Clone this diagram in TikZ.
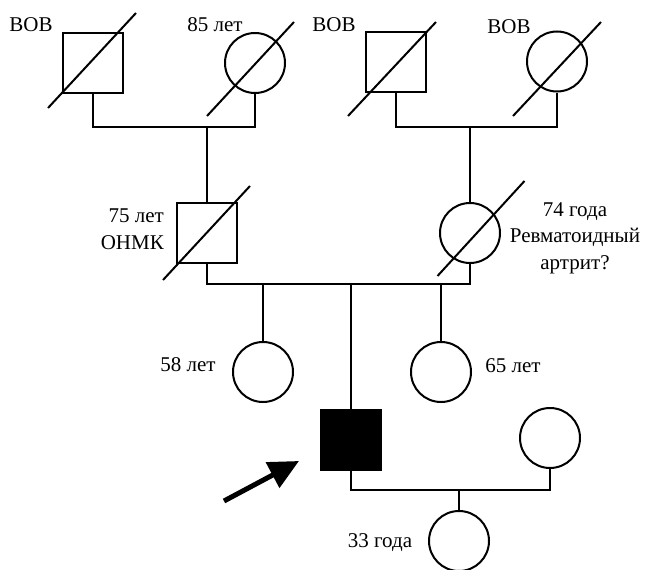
\documentclass[tikz,border=0pt]{standalone}
\usepackage{fontspec}
\setmainfont{Liberation Serif}
\usetikzlibrary{calc,arrows.meta}
\begin{document}
\begin{tikzpicture}[x=1pt,y=-1pt,
  lw/.style={line width=2pt},
  male/.style={draw,lw,rectangle,minimum size=60pt,inner sep=0pt},
  female/.style={draw,lw,circle,minimum size=60pt,inner sep=0pt},
  link/.style={lw},
  lbl/.style={font=\fontsize{21}{26.5}\selectfont,inner sep=0pt,align=center}]
\useasboundingbox (0,0) rectangle (649,570);
% generation I
\node[male] (gf1) at (93,63) {};
\node[female] (gm1) at (255,63) {};
\node[male] (gf2) at (396,61.5) {};
\node[female] (gm2) at (557,61.5) {};
% generation II
\node[male] (fa) at (207,233) {};
\node[female] (mo) at (470,233) {};
\node[female] (a58) at (263,372) {};
\node[female] (a65) at (441,372) {};
% proband
\node[male,fill=black] (pr) at (351,440) {};
\node[female] (sp) at (550,438) {};
\node[female] (ch) at (459,541) {};
% slashes
\draw[lw] ($(gf1)+(-45,45)$) -- ($(gf1)+(43,-50)$);
\draw[lw] ($(gm1)+(-48,53)$) -- ($(gm1)+(39,-41)$);
\draw[lw] ($(gf2)+(-48,54.5)$) -- ($(gf2)+(40,-39.5)$);
\draw[lw] ($(gm2)+(-44,54.5)$) -- ($(gm2)+(44,-39.5)$);
\draw[lw] ($(fa)+(-44,47)$) -- ($(fa)+(43,-47)$);
\draw[lw] ($(mo)+(-32.5,43)$) -- ($(mo)+(54.5,-52)$);
% connectors
\coordinate (m1) at (207,127);
\coordinate (m2) at (470,127);
\coordinate (m3) at (351,284);
\coordinate (s1) at (263,284);
\coordinate (s2) at (441,284);
\coordinate (m4) at (459,490);
\draw[link] (gf1.south) |- (m1) -| (gm1.south);
\draw[link] (m1) -- (fa.north);
\draw[link] (gf2.south) |- (m2) -| (gm2.south);
\draw[link] (m2) -- (mo.north);
\draw[link] (fa.south) |- (m3) -| (mo.south);
\draw[link] (s1) -- (a58.north);
\draw[link] (s2) -- (a65.north);
\draw[link] (m3) -- (pr.north);
\draw[link] (pr.south) |- (m4) -| (sp.south);
\draw[link] (m4) -- (ch.north);
% arrow
\coordinate (at) at (224,501);
\coordinate (ah) at (299,461);
\draw[line width=5pt,-{Triangle[length=30pt,width=28pt]}] (at) -- (ah);
% labels
\node[lbl] (t1) at (31,25) {ВОВ};
\node[lbl] (t2) at (215,25) {85 лет};
\node[lbl] (t3) at (334,25) {ВОВ};
\node[lbl] (t4) at (509,27) {ВОВ};
\node[lbl,align=right,anchor=east] (t5) at (164,229) {75 лет\\ОНМК};
\node[lbl] (t6) at (575,238) {74 года\\Ревматоидный\\артрит?};
\node[lbl] (t7) at (188,365) {58 лет};
\node[lbl] (t8) at (513,366) {65 лет};
\node[lbl] (t9) at (380,543) {33 года};
\end{tikzpicture}
\end{document}
